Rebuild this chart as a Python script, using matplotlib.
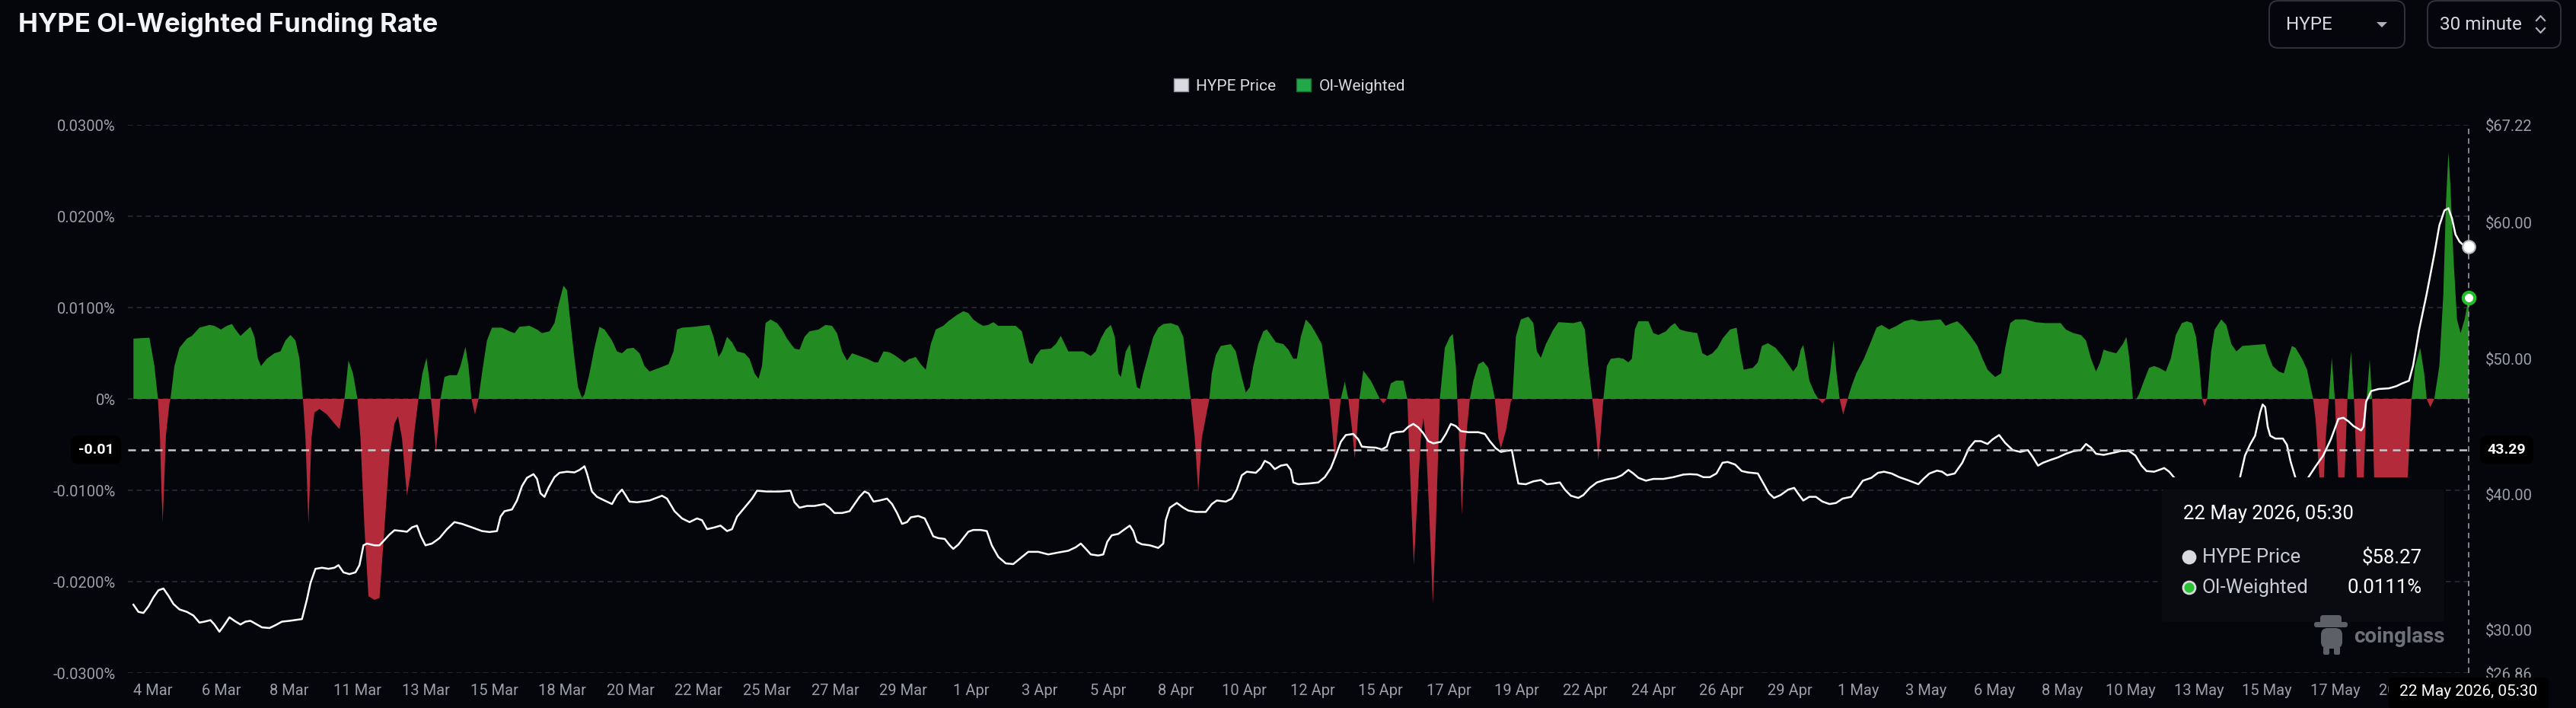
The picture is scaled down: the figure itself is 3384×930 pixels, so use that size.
import matplotlib

matplotlib.use("Agg")
import matplotlib.pyplot as plt
import matplotlib.transforms as mtransforms
import numpy as np
from matplotlib.lines import Line2D
from matplotlib.patches import Circle, FancyBboxPatch, Patch, Polygon

W, H = 3384, 930
BG = "#05060b"
GREEN = "#228b22"
RED = "#b32a3b"
GRID = "#2a2c33"
TICK = "#9c9fa6"

TITLE = "HYPE OI-Weighted Funding Rate"
SERIES = ["HYPE Price", "OI-Weighted"]
LAST_STAMP = "22 May 2026, 05:30"
PAIR = "HYPE"
INTERVAL = "30 minute"

# time axis: days since 4 Mar 2026 00:00 (30 minute candles)
FUND_DAY = [
    -0.670, -0.123, 0.048, 0.168, 0.236, 0.288, 0.331, 0.373, 0.442, 0.562,
    0.596, 0.733, 0.904, 1.160, 1.331, 1.588, 1.930, 2.101, 2.324, 2.529,
    2.700, 2.820, 2.991, 3.162, 3.333, 3.470, 3.590, 3.693, 3.898, 4.155,
    4.360, 4.531, 4.702, 4.873, 5.010, 5.130, 5.216, 5.318, 5.421, 5.524,
    5.695, 5.951, 6.208, 6.379, 6.482, 6.550, 6.687, 6.841, 6.995, 7.098,
    7.234, 7.371, 7.577, 7.748, 7.919, 8.090, 8.261, 8.381, 8.518, 8.689,
    8.809, 8.946, 9.082, 9.219, 9.356, 9.459, 9.510, 9.596, 9.681, 9.767,
    9.835, 9.972, 10.143, 10.400, 10.520, 10.691, 10.793, 10.896, 11.016, 11.136,
    11.255, 11.426, 11.597, 11.940, 12.197, 12.368, 12.539, 12.881, 13.138, 13.308,
    13.565, 13.736, 13.873, 14.044, 14.164, 14.284, 14.421, 14.540, 14.677, 14.763,
    14.934, 15.105, 15.276, 15.447, 15.704, 15.875, 16.046, 16.217, 16.440, 16.645,
    16.816, 16.987, 17.329, 17.637, 17.808, 17.928, 18.099, 18.527, 19.040, 19.178,
    19.349, 19.468, 19.640, 19.811, 19.982, 20.238, 20.409, 20.580, 20.717, 20.837,
    20.957, 21.128, 21.350, 21.521, 21.692, 21.949, 22.120, 22.291, 22.462, 22.770,
    23.010, 23.232, 23.403, 23.575, 23.746, 23.917, 24.173, 24.430, 24.687, 24.806,
    24.995, 25.200, 25.371, 25.542, 25.713, 25.885,
    25.926, 26.097, 26.268, 26.439, 26.611, 26.782, 27.038, 27.209, 27.466, 27.723,
    27.894, 28.065, 28.236, 28.407, 28.578, 28.749, 28.920, 29.519, 29.725, 29.861,
    29.981, 30.084, 30.204, 30.375, 30.717, 30.888, 31.059, 31.196, 31.316, 31.829,
    32.086, 32.257, 32.428, 32.599, 32.770, 32.907, 33.027, 33.112, 33.283, 33.420,
    33.540, 33.660, 33.763, 33.882, 34.053, 34.224, 34.396, 34.567, 34.823, 35.080,
    35.251, 35.371, 35.508, 35.644, 35.764, 35.884, 36.141, 36.226, 36.363, 36.534,
    36.876, 37.048, 37.219, 37.390, 37.527, 37.646, 37.817, 37.989, 38.108, 38.245,
    38.416, 38.673, 38.844, 39.015, 39.135, 39.272, 39.443, 39.614, 39.785, 39.990,
    40.127, 40.247, 40.350, 40.435, 40.538, 40.640, 40.777, 40.897, 41.017, 41.120,
    41.205, 41.274, 41.411, 41.667, 41.838, 41.975, 42.095, 42.215, 42.352, 42.523,
    42.779, 42.916, 43.036, 43.139, 43.241, 43.378, 43.464, 43.549, 43.686, 43.789,
    43.891, 44.028, 44.199, 44.371, 44.473, 44.576, 44.627, 44.713, 44.781, 44.867,
    45.055, 45.175, 45.346, 45.517, 45.688, 45.859, 45.911, 46.030, 46.116, 46.287,
    46.458, 46.510, 46.629, 46.800, 47.057, 47.228, 47.348, 47.485, 47.656, 47.913,
    48.084, 48.597, 48.854, 48.991, 49.110, 49.247, 49.367, 49.453, 49.538, 49.624,
    49.743, 49.880, 50.137, 50.308, 50.479, 50.599, 50.702, 50.822, 51.164, 51.334,
    51.506, 51.762, 51.933, 52.070, 52.241, 52.447,
    52.836, 53.009, 53.182, 53.354, 53.527, 53.700, 53.959, 54.183, 54.304, 54.425,
    54.736, 54.909, 55.047, 55.254, 55.513, 55.772, 55.945, 56.118, 56.256, 56.377,
    56.463, 56.549, 56.671, 56.843, 56.981, 57.120, 57.240, 57.378, 57.500, 57.603,
    57.707, 57.827, 57.983, 58.104, 58.277, 58.537, 58.796, 58.968, 59.141, 59.400,
    59.659, 59.918, 60.177, 60.436, 60.781, 61.161, 61.334, 61.472, 61.731, 61.904,
    62.163, 62.422, 62.595, 62.768, 63.027, 63.234, 63.372, 63.545, 63.718, 64.063,
    64.408, 64.754, 65.099, 65.272, 65.445, 65.704, 65.963, 66.136, 66.308, 66.481,
    66.619, 66.740, 66.913, 67.172, 67.397, 67.518, 67.621, 67.742, 67.863, 67.949,
    68.122, 68.295, 68.467, 68.640, 68.865, 69.037, 69.210, 69.417, 69.590, 69.763,
    69.901, 70.022, 70.108, 70.194, 70.281, 70.419, 70.540, 70.765, 70.937, 71.110,
    71.283, 71.490, 72.267, 72.354, 72.526, 72.733, 72.906, 73.044, 73.182, 73.303,
    73.528, 73.701, 73.822, 73.908, 73.994, 74.115, 74.219, 74.339, 74.443, 74.547,
    74.651, 74.772, 74.858, 74.979, 75.082, 75.203, 75.307, 75.411, 75.514, 75.635,
    75.739, 75.843, 75.929, 76.015, 76.153, 77.017, 77.155, 77.276, 77.397, 77.570,
    77.708, 77.794, 77.915, 78.054, 78.227, 78.364, 78.451, 78.537, 78.606, 78.710,
    78.831, 78.952, 79.090, 79.229,
]
FUND_PCT = [
    0.0066, 0.0067, 0.0036, 0.0, -0.0040, -0.0100, -0.0135, -0.0100, -0.0040, -0.0005,
    0.0, 0.0036, 0.0056, 0.0066, 0.0069, 0.0078, 0.0081, 0.0080, 0.0076, 0.0080,
    0.0082, 0.0076, 0.0069, 0.0074, 0.0079, 0.0068, 0.0044, 0.0036, 0.0044, 0.0050,
    0.0052, 0.0064, 0.0070, 0.0064, 0.0044, 0.0, -0.0043, -0.0137, -0.0043, -0.0015,
    -0.0011, -0.0017, -0.0027, -0.0033, -0.0015, 0.0, 0.0042, 0.0028, 0.0, -0.0043,
    -0.0141, -0.0216, -0.0220, -0.0218, -0.0141, -0.0062, -0.0027, -0.0019, -0.0043, -0.0106,
    -0.0082, -0.0035, 0.0, 0.0028, 0.0045, 0.0020, 0.0, -0.0027, -0.0057, -0.0027,
    0.0, 0.0024, 0.0026, 0.0026, 0.0036, 0.0057, 0.0036, 0.0, -0.0017, 0.0,
    0.0028, 0.0064, 0.0078, 0.0078, 0.0074, 0.0072, 0.0079, 0.0080, 0.0076, 0.0072,
    0.0074, 0.0083, 0.0103, 0.0124, 0.0119, 0.0083, 0.0044, 0.0013, 0.0001, 0.0005,
    0.0028, 0.0056, 0.0079, 0.0076, 0.0064, 0.0052, 0.0050, 0.0055, 0.0056, 0.0050,
    0.0036, 0.0030, 0.0034, 0.0038, 0.0052, 0.0076, 0.0078, 0.0079, 0.0081, 0.0068,
    0.0046, 0.0052, 0.0068, 0.0062, 0.0052, 0.0050, 0.0044, 0.0028, 0.0022, 0.0036,
    0.0083, 0.0087, 0.0083, 0.0076, 0.0066, 0.0055, 0.0054, 0.0068, 0.0074, 0.0076,
    0.0081, 0.0080, 0.0072, 0.0052, 0.0042, 0.0050, 0.0047, 0.0044, 0.0040, 0.0040,
    0.0052, 0.0051, 0.0048, 0.0044, 0.0040, 0.0044,
    0.0044, 0.0046, 0.0038, 0.0032, 0.0060, 0.0076, 0.0080, 0.0085, 0.0091, 0.0096,
    0.0094, 0.0087, 0.0083, 0.0080, 0.0081, 0.0084, 0.0080, 0.0080, 0.0074, 0.0056,
    0.0040, 0.0038, 0.0047, 0.0054, 0.0055, 0.0060, 0.0069, 0.0060, 0.0052, 0.0052,
    0.0047, 0.0052, 0.0066, 0.0076, 0.0081, 0.0068, 0.0028, 0.0024, 0.0052, 0.0060,
    0.0036, 0.0013, 0.0011, 0.0028, 0.0048, 0.0068, 0.0078, 0.0082, 0.0083, 0.0080,
    0.0068, 0.0036, 0.0, -0.0043, -0.0102, -0.0043, 0.0, 0.0028, 0.0048, 0.0058,
    0.0060, 0.0052, 0.0028, 0.0007, 0.0013, 0.0036, 0.0060, 0.0074, 0.0076, 0.0070,
    0.0062, 0.0060, 0.0054, 0.0044, 0.0044, 0.0068, 0.0087, 0.0081, 0.0072, 0.0060,
    0.0028, 0.0, -0.0035, -0.0068, -0.0031, 0.0, 0.0019, 0.0, -0.0031, -0.0065,
    -0.0031, 0.0, 0.0031, 0.0020, 0.0009, 0.0, -0.0005, 0.0, 0.0017, 0.0020,
    0.0020, 0.0, -0.0102, -0.0182, -0.0121, -0.0043, -0.0021, -0.0043, -0.0141, -0.0224,
    -0.0141, 0.0, 0.0056, 0.0068, 0.0071, 0.0036, 0.0, -0.0062, -0.0127, -0.0062,
    0.0, 0.0020, 0.0038, 0.0041, 0.0034, 0.0009, 0.0, -0.0043, -0.0054, -0.0035,
    -0.0003, 0.0, 0.0068, 0.0087, 0.0090, 0.0083, 0.0052, 0.0045, 0.0060, 0.0076,
    0.0084, 0.0083, 0.0085, 0.0076, 0.0036, 0.0, -0.0035, -0.0067, -0.0035, 0.0,
    0.0036, 0.0044, 0.0045, 0.0044, 0.0040, 0.0044, 0.0076, 0.0085, 0.0085, 0.0072,
    0.0070, 0.0074, 0.0080, 0.0083, 0.0076, 0.0074,
    0.0072, 0.0050, 0.0047, 0.0050, 0.0056, 0.0066, 0.0076, 0.0078, 0.0052, 0.0032,
    0.0034, 0.0040, 0.0058, 0.0061, 0.0056, 0.0046, 0.0038, 0.0030, 0.0036, 0.0054,
    0.0059, 0.0044, 0.0020, 0.0007, 0.0, -0.0005, 0.0, 0.0028, 0.0064, 0.0028,
    0.0, -0.0017, 0.0, 0.0013, 0.0028, 0.0044, 0.0064, 0.0078, 0.0081, 0.0076,
    0.0080, 0.0085, 0.0087, 0.0085, 0.0086, 0.0087, 0.0080, 0.0082, 0.0085, 0.0080,
    0.0070, 0.0058, 0.0044, 0.0032, 0.0024, 0.0028, 0.0056, 0.0083, 0.0087, 0.0087,
    0.0084, 0.0083, 0.0083, 0.0083, 0.0076, 0.0072, 0.0070, 0.0064, 0.0044, 0.0030,
    0.0040, 0.0054, 0.0052, 0.0050, 0.0060, 0.0068, 0.0044, 0.0, 0.0, 0.0005,
    0.0020, 0.0034, 0.0036, 0.0034, 0.0030, 0.0044, 0.0070, 0.0083, 0.0085, 0.0083,
    0.0068, 0.0036, 0.0, -0.0008, 0.0, 0.0052, 0.0076, 0.0087, 0.0081, 0.0060,
    0.0052, 0.0058, 0.0060, 0.0050, 0.0036, 0.0030, 0.0028, 0.0044, 0.0058, 0.0056,
    0.0044, 0.0032, 0.0013, 0.0, -0.0023, -0.0082, -0.0125, -0.0043, 0.0, 0.0045,
    0.0, -0.0090, -0.0125, -0.0090, 0.0, 0.0052, 0.0, -0.0090, -0.0125, -0.0090,
    0.0, 0.0043, 0.0, -0.0110, -0.0130, -0.0130, -0.0080, 0.0, 0.0036, 0.0056,
    0.0028, 0.0, -0.0009, 0.0, 0.0036, 0.0115, 0.0213, 0.0270, 0.0233, 0.0154,
    0.0087, 0.0072, 0.0087, 0.0111,
]

PRICE_DAY = [
    -0.670, -0.499, -0.328, -0.157, 0.014, 0.185, 0.356, 0.527, 0.698, 0.904,
    1.160, 1.383, 1.588, 1.759, 1.965, 2.101, 2.272, 2.409, 2.615, 2.786,
    2.991, 3.162, 3.333, 3.504, 3.727, 3.984, 4.189, 4.411, 4.668, 5.096,
    5.267, 5.387, 5.558, 5.780, 6.003, 6.208, 6.345, 6.516, 6.721, 6.927,
    7.064, 7.200, 7.320, 7.577, 7.748, 7.919, 8.090, 8.261, 8.518, 8.689,
    8.860, 9.031, 9.168, 9.322, 9.544, 9.801, 10.058, 10.314, 10.571, 10.913,
    11.255, 11.512, 11.769, 11.889, 12.025, 12.282, 12.453, 12.624, 12.795, 13.018,
    13.138, 13.257, 13.394, 13.531, 13.736, 13.907, 14.164, 14.421, 14.592, 14.763,
    14.848, 15.019, 15.190, 15.447, 15.704, 15.875, 16.046, 16.166, 16.303, 16.560,
    16.987, 17.415, 17.586, 17.843, 18.099, 18.356, 18.613, 18.784, 18.955, 19.212,
    19.417, 19.640, 19.811, 19.982, 20.238, 20.495, 20.666, 21.008, 21.436, 21.812,
    21.949, 22.120, 22.377, 22.633, 22.975, 23.146, 23.318, 23.575, 23.831, 24.002,
    24.173, 24.344, 24.481, 24.653, 24.858, 25.115, 25.286, 25.457, 25.628, 25.799,
    25.926, 26.183, 26.405, 26.525, 26.696, 26.867, 27.090, 27.261, 27.380, 27.552,
    27.723, 27.894, 28.065, 28.322, 28.527, 28.698, 28.920, 29.177, 29.434, 29.690,
    29.947, 30.289, 30.631, 30.974, 31.316, 31.573, 31.744, 31.915, 32.086, 32.342,
    32.513, 32.650, 32.804, 33.027, 33.249, 33.420, 33.540, 33.660, 33.831, 34.105,
    34.396, 34.567, 34.652, 34.789, 35.029, 35.251, 35.422, 35.679, 36.021, 36.226,
    36.397, 36.705, 36.910, 37.082, 37.253, 37.424, 37.732, 37.903, 38.040, 38.211,
    38.382, 38.588, 38.793, 38.930, 39.015, 39.186, 39.528, 39.871, 40.093, 40.299,
    40.470, 40.640, 40.811, 41.068, 41.240, 41.359, 41.582, 41.838, 42.044, 42.215,
    42.352, 42.523, 42.779, 42.951, 43.122, 43.293, 43.464, 43.635, 43.806, 44.063,
    44.234, 44.405, 44.576, 44.747, 45.004, 45.346, 45.568, 45.739, 45.945, 46.116,
    46.287, 46.492, 46.595, 46.715, 46.971, 47.228, 47.485, 47.690, 47.913, 48.135,
    48.306, 48.511, 48.768, 48.939, 49.161, 49.401, 49.709, 50.051, 50.256, 50.479,
    50.650, 50.821, 51.078, 51.334, 51.677, 52.019, 52.361,
    52.577, 52.836, 53.043, 53.268, 53.492, 53.700, 53.872, 54.132, 54.356, 54.563,
    54.909, 55.082, 55.289, 55.462, 55.686, 55.945, 56.152, 56.325, 56.463, 56.671,
    56.895, 57.120, 57.362, 57.586, 57.810, 58.104, 58.329, 58.501, 58.795, 59.019,
    59.227, 59.486, 59.745, 60.090, 60.401, 60.574, 60.781, 61.040, 61.213, 61.386,
    61.645, 61.904, 62.129, 62.336, 62.543, 62.768, 62.940, 63.165, 63.372, 63.631,
    63.890, 64.149, 64.322, 64.495, 64.667, 64.927, 65.186, 65.445, 65.704, 65.963,
    66.136, 66.308, 66.481, 66.740, 67.086, 67.345, 67.604, 67.828, 68.035, 68.208,
    68.467, 68.640, 68.813, 68.985, 69.158, 70.000, 70.700, 71.404, 71.577, 71.749,
    71.922, 72.095, 72.181, 72.267, 72.354, 72.440, 72.613, 72.872, 73.010, 73.131,
    73.303, 73.520, 73.735, 73.994, 74.253, 74.513, 74.772, 74.945, 75.117, 75.290,
    75.549, 75.635, 75.722, 75.894, 76.153, 76.499, 76.758, 76.930, 77.189, 77.328,
    77.535, 77.794, 78.054, 78.227, 78.400, 78.537, 78.658, 78.779, 78.917, 79.056,
    79.229,
]
PRICE_USD = [
    31.89, 31.36, 31.28, 31.76, 32.42, 32.95, 33.08, 32.55, 31.94, 31.54,
    31.36, 31.09, 30.57, 30.64, 30.75, 30.43, 29.90, 30.30, 30.96, 30.70,
    30.43, 30.64, 30.70, 30.49, 30.22, 30.17, 30.38, 30.64, 30.70, 30.83,
    32.28, 33.48, 34.53, 34.61, 34.53, 34.61, 34.80, 34.27, 34.14, 34.27,
    34.80, 36.26, 36.39, 36.26, 36.26, 36.65, 37.05, 37.37, 37.31, 37.26,
    37.58, 37.71, 36.92, 36.26, 36.39, 36.79, 37.45, 37.97, 37.84, 37.58,
    37.31, 37.24, 37.31, 38.37, 38.77, 38.90, 39.56, 40.62, 41.23, 41.50,
    41.15, 40.09, 39.83, 40.49, 41.28, 41.60, 41.68, 41.63, 41.81, 42.08,
    41.55, 40.22, 39.83, 39.56, 39.30, 39.96, 40.36, 39.96, 39.48, 39.43,
    39.56, 39.91, 39.70, 38.77, 38.24, 37.97, 38.24, 38.11, 37.45, 37.58,
    37.71, 37.31, 37.45, 38.37, 39.03, 39.70, 40.28, 40.22, 40.22, 40.28,
    39.43, 39.03, 39.16, 39.16, 39.30, 39.03, 38.64, 38.64, 38.77, 39.30,
    39.83, 40.22, 40.09, 39.48, 39.56, 39.70, 39.30, 38.64, 37.84, 37.97,
    38.32, 38.42, 38.24, 37.71, 36.92, 36.79, 36.73, 36.26, 36.00, 36.31,
    36.79, 37.26, 37.39, 37.39, 37.31, 36.26, 35.41, 34.93, 34.88, 35.33,
    35.78, 35.78, 35.59, 35.73, 35.86, 36.12, 36.39, 36.00, 35.59, 35.51,
    35.59, 36.52, 37.00, 37.10, 37.45, 37.71, 37.31, 36.52, 36.34, 36.26,
    36.07, 36.39, 38.11, 39.03, 39.38, 39.03, 38.82, 38.72, 38.72, 39.30,
    39.56, 39.48, 39.70, 40.36, 41.42, 41.68, 41.60, 41.95, 42.48, 42.29,
    41.87, 42.13, 42.21, 41.81, 40.89, 40.76, 40.81, 40.89, 41.28, 41.95,
    42.87, 43.88, 44.38, 44.46, 44.06, 43.53, 43.48, 43.45, 43.32, 43.53,
    44.46, 44.59, 44.64, 44.99, 45.20, 44.94, 44.51, 43.93, 43.77, 43.88,
    44.46, 45.20, 45.04, 44.67, 44.59, 44.59, 44.46, 43.93, 43.40, 43.14,
    43.21, 43.27, 42.08, 40.81, 40.76, 40.97, 41.07, 40.76, 40.81, 40.89,
    40.36, 39.91, 39.75, 39.96, 40.49, 40.89, 41.10, 41.23, 41.42, 41.81,
    41.55, 41.23, 41.02, 41.15, 41.15, 41.28, 41.47,
    41.50, 41.47, 41.28, 41.28, 41.55, 42.34, 42.40, 42.21, 41.73, 41.63,
    41.55, 40.89, 40.09, 39.75, 39.96, 40.36, 40.49, 39.96, 39.56, 39.83,
    39.83, 39.48, 39.30, 39.38, 39.70, 39.83, 40.49, 41.02, 41.23, 41.60,
    41.68, 41.55, 41.28, 41.02, 40.76, 41.15, 41.55, 41.76, 41.68, 41.42,
    41.55, 42.34, 43.40, 43.93, 43.93, 43.72, 44.06, 44.38, 43.80, 43.27,
    43.14, 43.27, 42.74, 42.13, 42.34, 42.55, 42.74, 43.00, 43.19, 43.27,
    43.72, 43.45, 43.00, 42.92, 43.08, 43.21, 43.21, 42.87, 42.13, 41.73,
    41.68, 41.81, 41.95, 41.68, 41.23, 40.20, 39.80, 41.23, 42.87, 43.67,
    44.33, 46.05, 46.63, 46.44, 44.99, 44.33, 44.12, 44.12, 43.67, 42.48,
    41.23, 40.30, 41.23, 42.08, 42.87, 44.06, 45.57, 45.65, 45.39, 45.04,
    44.72, 44.99, 46.84, 47.62, 47.77, 47.82, 47.98, 48.16, 48.38, 49.49,
    52.13, 54.78, 57.69, 59.81, 60.92, 61.08, 60.34, 59.15, 58.62, 58.35,
    58.27,
]

# one x label per 112 half-hour candles
TICK_LABELS = [
    "4 Mar", "6 Mar", "8 Mar", "11 Mar", "13 Mar", "15 Mar", "18 Mar", "20 Mar",
    "22 Mar", "25 Mar", "27 Mar", "29 Mar", "1 Apr", "3 Apr", "5 Apr", "8 Apr",
    "10 Apr", "12 Apr", "15 Apr", "17 Apr", "19 Apr", "22 Apr", "24 Apr", "26 Apr",
    "29 Apr", "1 May", "3 May", "6 May", "8 May", "10 May", "13 May", "15 May",
    "17 May", "20 May",
]
TICK_STEP_DAYS = 112 / 48

PCT_TICKS = [0.03, 0.02, 0.01, 0.0, -0.01, -0.02, -0.03]
PCT_LABELS = ["0.0300%", "0.0200%", "0.0100%", "0%", "-0.0100%", "-0.0200%", "-0.0300%"]
USD_TICKS = [26.86, 30, 40, 50, 60, 67.22]
USD_LABELS = ["$26.86", "$30.00", "$40.00", "$50.00", "$60.00", "$67.22"]
CROSS_USD = 43.29


def main() -> None:
    plt.rcParams["font.family"] = ["Roboto", "DejaVu Sans"]
    fig = plt.figure(figsize=(W / 100, H / 100), dpi=100, facecolor=BG)
    pix = mtransforms.IdentityTransform()

    def text(x, y, s, **kw):
        return fig.text(x, H - y, s, transform=pix, **kw)

    def rbox(x0, y0, x1, y1, radius=0, **kw):
        p = FancyBboxPatch(
            (x0, H - y1), x1 - x0, y1 - y0,
            boxstyle=f"round,pad=0,rounding_size={radius}",
            transform=pix, **kw,
        )
        fig.add_artist(p)
        return p

    ax = fig.add_axes([168 / W, 1 - 884 / H, (3248 - 168) / W, (884 - 164) / H])
    ax.set_facecolor(BG)
    fd = np.array(FUND_DAY)
    fp = np.array(FUND_PCT)
    ax.fill_between(fd, fp, 0, where=fp >= 0, interpolate=True, color=GREEN, lw=0)
    ax.fill_between(fd, fp, 0, where=fp <= 0, interpolate=True, color=RED, lw=0)
    ax.set_ylim(-0.03, 0.03)
    ax.set_xlim(-0.86, 79.36)
    ax.set_yticks(PCT_TICKS, PCT_LABELS)
    ticks = np.arange(len(TICK_LABELS)) * TICK_STEP_DAYS
    ax.set_xticks(ticks, TICK_LABELS)
    ax.grid(axis="y", color=GRID, ls=(0, (4, 3)), lw=1.2)
    ax.set_axisbelow(True)
    ax.tick_params(length=0, colors=TICK, labelsize=14.5)
    ax.tick_params(axis="y", pad=11.5)
    ax.tick_params(axis="x", pad=10)
    for s in ax.spines.values():
        s.set_visible(False)

    t_end = FUND_DAY[-1]
    ax.axvline(t_end, color="#8d9097", ls=(0, (4, 3)), lw=1.3)

    ax2 = ax.twinx()
    ax2.plot(PRICE_DAY, PRICE_USD, color="white", lw=1.8, solid_joinstyle="round")
    ax2.set_ylim(USD_TICKS[0], USD_TICKS[-1])
    ax2.set_yticks(USD_TICKS, USD_LABELS)
    ax2.tick_params(length=0, colors=TICK, labelsize=14.5, pad=12)
    for s in ax2.spines.values():
        s.set_visible(False)
    ax2.axhline(CROSS_USD, color="#c9cacd", ls=(0, (4, 3)), lw=1.8)

    # end-of-series markers
    ax2.plot(t_end, PRICE_USD[-1], "o", ms=12, mfc="white", mec="#b5b7bd", mew=1.5,
             clip_on=False, zorder=6)
    fund_on_ax2 = ax2.transData.inverted().transform(
        ax.transData.transform((t_end, fp[-1])))[1]
    ax2.plot(t_end, fund_on_ax2, "o", ms=11, mfc="white", mec="#1fbf2a", mew=3,
             clip_on=False, zorder=6)

    # crosshair labels
    xe, yc = ax2.transData.transform((t_end, CROSS_USD))
    cross_pct = ax.transData.inverted().transform((xe, yc))[1]
    lab = dict(color="white", fontsize=14, fontweight="bold", va="center",
               transform=pix, zorder=8)
    fig.text(126, yc, f"{cross_pct:.2f}", ha="center",
             bbox=dict(boxstyle="round,pad=0.5", fc="black", ec="none"), **lab)
    fig.text(3293, yc, f"{CROSS_USD:.2f}", ha="center",
             bbox=dict(boxstyle="round,pad=0.5", fc="black", ec="none"), **lab)
    rbox(3138, 890, 3348, 932, radius=6, fc="black", ec="none", zorder=7)
    fig.text(xe, H - 908, LAST_STAMP, ha="center", va="center", color="white",
             fontsize=15, transform=pix, zorder=8)

    # tooltip
    rbox(2840, 627, 3211, 643, fc=BG, ec="none", zorder=3)
    rbox(2840, 643, 3211, 817, radius=4, fc="#0a0b10", ec="none", zorder=3)
    text(2868, 675, LAST_STAMP, color="white", fontsize=18.5, va="center", zorder=4)
    rows = [
        (SERIES[0], f"${PRICE_USD[-1]:.2f}", "#d9dae0", "#d9dae0"),
        (SERIES[1], f"{FUND_PCT[-1]:.4f}%", "#2bc236", "#d9dae0"),
    ]
    for i, (name, val, fc, ec) in enumerate(rows):
        y = 732 + i * 40
        fig.add_artist(Circle((2876, H - y), 8, transform=pix, fc=fc, ec=ec, lw=2, zorder=4))
        text(2893, y, name, color="#c9ccd4", fontsize=18.5, va="center", zorder=4)
        text(3182, y, val, color="white", fontsize=18.5, va="center", ha="right", zorder=4)

    # watermark (little hat mascot + wordmark)
    mascot = "#5d6066"
    rbox(3048, 808, 3076, 820, radius=4, fc=mascot, ec="none", zorder=3)
    rbox(3040, 817, 3084, 824, radius=3, fc=mascot, ec="none", zorder=3)
    rbox(3049, 825, 3077, 852, radius=9, fc=mascot, ec="none", zorder=3)
    rbox(3052, 850, 3060, 860, radius=2, fc=mascot, ec="none", zorder=3)
    rbox(3066, 850, 3074, 860, radius=2, fc=mascot, ec="none", zorder=3)
    text(3092, 836, "coinglass", color="#6f7178", fontsize=20, fontweight="bold",
         va="center", zorder=4)

    # header
    text(24, 32, TITLE, color="#f2f3f7", fontsize=25, fontweight="bold",
         family=["Inter", "DejaVu Sans"], va="center")
    rbox(2981, 1, 3159, 63, radius=12, fc=BG, ec="#2f3139", lw=1.5)
    rbox(3189, 1, 3364, 63, radius=12, fc=BG, ec="#2f3139", lw=1.5)
    text(3003, 32, PAIR, color="#d5d8de", fontsize=17.5, va="center")
    text(3205, 32, INTERVAL, color="#d5d8de", fontsize=17.5, va="center")
    fig.add_artist(Polygon([(3122, H - 29), (3136, H - 29), (3129, H - 36)],
                           transform=pix, fc="#aeb1b8", ec="none"))
    for ys in ((27, 21, 27), (37, 43, 37)):
        fig.add_artist(Line2D([3332, 3337.5, 3343], [H - v for v in ys],
                              transform=pix, color="#aeb1b8", lw=1.6))

    fig.legend(
        handles=[Patch(fc="#d9dae0", ec="#8d9097"), Patch(fc="#22a84a", ec="#12702f")],
        labels=SERIES, loc="center", bbox_to_anchor=(1694 / W, 1 - 113 / H),
        ncol=2, frameon=False, fontsize=15, labelcolor="#d8dae0",
        handlelength=0.9, handleheight=0.9, handletextpad=0.5, columnspacing=1.3,
    )

    fig.savefig("out.png", dpi=100, facecolor=BG)


if __name__ == "__main__":
    main()
